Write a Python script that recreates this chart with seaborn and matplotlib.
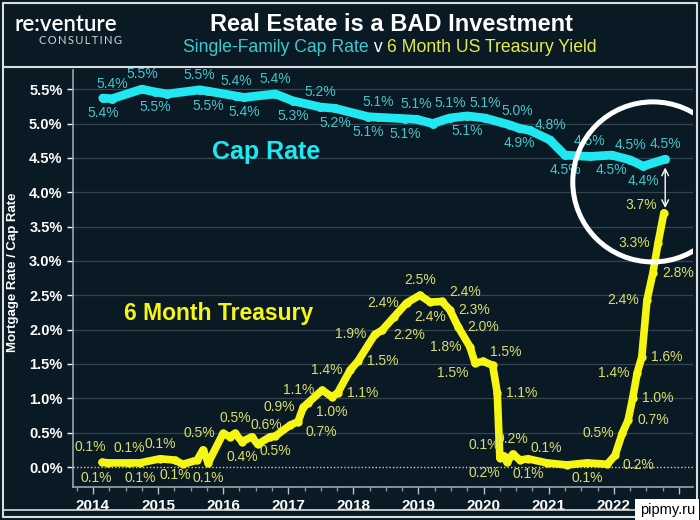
import numpy as np
import pandas as pd
import matplotlib
matplotlib.use("Agg")
import matplotlib.pyplot as plt
from matplotlib.patches import Ellipse, Rectangle
from matplotlib.lines import Line2D
import seaborn as sns

# Single-family cap rate (decimal year, %), label placement per point ('' = no label)
cap_year = [2014.15, 2014.29, 2014.75, 2014.95, 2015.14, 2015.64, 2015.77, 2016.20,
            2016.32, 2016.80, 2017.07, 2017.49, 2017.72, 2018.22, 2018.38, 2018.80,
            2018.97, 2019.22, 2019.48, 2019.75, 2020.02, 2020.40, 2020.55, 2020.71,
            2021.02, 2021.25, 2021.63, 2021.97, 2022.25, 2022.45, 2022.79]
cap_rate = [5.37, 5.36, 5.50, 5.46, 5.43, 5.49, 5.47, 5.40,
            5.38, 5.43, 5.33, 5.24, 5.22, 5.10, 5.09, 5.07,
            5.06, 5.00, 5.08, 5.11, 5.08, 4.98, 4.93, 4.90,
            4.76, 4.54, 4.52, 4.54, 4.47, 4.38, 4.48]
cap_pos = ['b', 'a', 'a', 'b', '', 'a', 'b', 'a',
           'b', 'a', 'b', 'a', 'b', 'b', 'a', 'b',
           'a', '', 'a', 'b', 'a', 'aR', 'b', '',
           'a', 'b', 'a', 'b', 'a', 'b', 'a']

# 6 month US treasury yield
tsy_year = [2014.14, 2014.23, 2014.55, 2014.72, 2015.03, 2015.26, 2015.38, 2015.60,
            2015.69, 2015.77, 2016.00, 2016.10, 2016.18, 2016.29, 2016.44, 2016.53,
            2016.72, 2016.80, 2017.03, 2017.15, 2017.23, 2017.30, 2017.52, 2017.67,
            2017.76, 2017.95, 2018.07, 2018.33, 2018.44, 2018.62, 2018.82, 2019.02,
            2019.18, 2019.36, 2019.48, 2019.61, 2019.79, 2019.87, 2019.99, 2020.14,
            2020.21, 2020.25, 2020.31, 2020.36, 2020.45, 2020.56, 2020.68, 2020.97,
            2021.28, 2021.59, 2021.90, 2022.02, 2022.13, 2022.22, 2022.29, 2022.36,
            2022.43, 2022.51, 2022.60, 2022.68, 2022.77]
tsy_rate = [0.07, 0.06, 0.06, 0.06, 0.12, 0.10, 0.04, 0.10,
            0.25, 0.06, 0.49, 0.44, 0.49, 0.37, 0.44, 0.33,
            0.44, 0.45, 0.61, 0.66, 0.87, 0.93, 1.12, 1.02,
            1.08, 1.41, 1.54, 1.93, 1.99, 2.18, 2.39, 2.50,
            2.40, 2.41, 2.29, 2.04, 1.75, 1.51, 1.54, 1.48,
            1.08, 0.13, 0.16, 0.07, 0.19, 0.10, 0.12, 0.06,
            0.03, 0.06, 0.04, 0.17, 0.49, 0.68, 1.00, 1.37,
            1.60, 2.43, 2.82, 3.26, 3.70]
tsy_pos = ['aL', 'bL', 'a', 'b', 'a', 'b', '', '',
           '', 'b', 'l', '', 'a', 'b', '', '',
           '', 'b', 'l', 'br', 'l', '', 'l', 'b',
           'r', 'l', 'r', 'l', '', 'bd', 'l', 'a',
           'b', 'ar', 'r', 'r', 'l', 'bl', 'ar', '',
           'r', 'ul', 'dl', '', 'a', '', 'b', 'a',
           '', 'b', '', 'br', 'l', 'r', 'r', 'l',
           'r', 'l', 'r', 'l', 'al']

years = list(range(2014, 2024))
y_ticks = [0.0, 0.5, 1.0, 1.5, 2.0, 2.5, 3.0, 3.5, 4.0, 4.5, 5.0, 5.5]

cap_df = pd.DataFrame({"year": cap_year, "rate": cap_rate})
tsy_df = pd.DataFrame({"year": tsy_year, "rate": tsy_rate})

BG = "#0a1a24"
CYAN = "#1fe8f0"
CYAN_TXT = "#47c4cc"
YELLOW = "#f6f614"
YELLOW_TXT = "#d9de6c"

sns.set_theme(style="dark", rc={"axes.facecolor": BG, "figure.facecolor": BG})
plt.rcParams["font.family"] = ["Liberation Sans", "DejaVu Sans"]

fig = plt.figure(figsize=(7, 5.2), dpi=100)
ax = fig.add_axes([73 / 700, 33 / 520, 620 / 700, 417 / 520])
ax.set_facecolor(BG)

sns.lineplot(data=cap_df, x="year", y="rate", ax=ax, color=CYAN, lw=6.3,
             marker="o", markersize=6.5, markeredgewidth=0, sort=False)
sns.lineplot(data=tsy_df, x="year", y="rate", ax=ax, color=YELLOW, lw=5.5,
             marker="o", markersize=6, markeredgewidth=0, sort=False)

# label offsets in pixels (dx, dy, horizontal alignment)
offs = {"a": (0, 15, "center"), "b": (0, -15, "center"),
        "aL": (-12, 15, "center"), "bL": (-12, -15, "center"),
        "aR": (8, 14, "center"),
        "l": (-8, 0, "right"), "r": (9, 0, "left"),
        "al": (-7, 8, "right"), "ar": (7, 9, "left"),
        "bl": (-7, -10, "right"), "br": (7, -10, "left"),
        "bd": (0, -18, "left"),
        "ul": (0, 13, "right"), "dl": (-4, -17, "right")}


def put_labels(xs, vs, pos, col):
    for x, v, p in zip(xs, vs, pos):
        if not p:
            continue
        dx, dy, ha = offs[p]
        ax.annotate(f"{v:.1f}%", (x, v), xytext=(dx * 0.72, dy * 0.72),
                    textcoords="offset points", ha=ha, va="center",
                    fontsize=10, color=col, clip_on=False)


put_labels(cap_year, cap_rate, cap_pos, CYAN_TXT)
put_labels(tsy_year, tsy_rate, tsy_pos, YELLOW_TXT)

ax.set_xlim(2013.693, 2023.217)
ax.set_ylim(-0.291, 5.779)
ax.set_xticks(years)
ax.set_xticks(np.arange(2013.75, 2023.2, 0.25), minor=True)
ax.set_yticks(y_ticks)
ax.set_yticklabels([f"{t:.1f}%" for t in y_ticks])
ax.tick_params(axis="y", colors="white", labelsize=10.5, length=4, width=1, left=True)
ax.tick_params(axis="x", which="major", colors="#b8c0c8", labelcolor="white",
               labelsize=11, length=5, width=1, bottom=True)
ax.tick_params(axis="x", which="minor", colors="#8a949c", length=3, width=1, bottom=True)
for lab in ax.get_xticklabels() + ax.get_yticklabels():
    lab.set_fontweight("bold")

ax.grid(False)
for t in y_ticks[1:]:
    ax.axhline(t, color="#34444f", lw=0.9, zorder=0)
ax.axhline(0, color="#c8c8c8", lw=1, ls=(0, (1, 1.5)), zorder=0)
for s in ["top", "right"]:
    ax.spines[s].set_visible(False)
for s in ["left", "bottom"]:
    ax.spines[s].set_color("#9aa4ac")
    ax.spines[s].set_linewidth(1.2)

ax.set_xlabel("")
ax.set_ylabel("Mortgage Rate / Cap Rate", color="white", fontsize=9.5, fontweight="bold")
ax.yaxis.set_label_coords(-0.087, 0.515)

ax.text(0.311, 0.803, "Cap Rate", transform=ax.transAxes, color=CYAN,
        fontsize=18, fontweight="bold", ha="center", va="center")
ax.text(0.235, 0.415, "6 Month Treasury", transform=ax.transAxes, color=YELLOW,
        fontsize=16.5, fontweight="bold", ha="center", va="center")

ax.add_patch(Ellipse((2022.60, 4.15), 2.46, 2.33, fill=False, ec="white", lw=3.6, zorder=5))
ax.annotate("", xy=(2022.79, 3.77), xytext=(2022.79, 4.36),
            arrowprops=dict(arrowstyle="<->", color="white", lw=1, shrinkA=0, shrinkB=0))

# header
fig.text(391 / 700, 1 - 24 / 520, "Real Estate is a BAD Investment", color="white",
         fontsize=17, fontweight="bold", ha="center", va="center")
parts = [("Single-Family Cap Rate", "#3fc9d2"), (" v ", "white"),
         ("6 Month US Treasury Yield", "#e4ea46")]
rend = fig.canvas.get_renderer()
texts = [fig.text(0, 1 - 48 / 520, s, color=c, fontsize=12.7, ha="left", va="center")
         for s, c in parts]
widths = [t.get_window_extent(rend).width for t in texts]
x0 = 390 - sum(widths) / 2
for t, w in zip(texts, widths):
    t.set_x(x0 / 700)
    x0 += w

fig.text(15 / 700, 1 - 24 / 520, "re:venture", color="white", fontsize=16,
         fontweight="semibold", family=["Lato", "DejaVu Sans"], ha="left", va="center")
fig.text(122 / 700, 1 - 41 / 520, "\u2009".join("CONSULTING"), color="#d0d4d8",
         fontsize=8, family=["Lato", "DejaVu Sans"], ha="right", va="center")

# frame lines
fig.add_artist(Rectangle((3 / 700, 3 / 520), 694 / 700, 514 / 520, transform=fig.transFigure,
                         fill=False, ec="#d8dde0", lw=1.5))
fig.add_artist(Line2D([3 / 700, 697 / 700], [1 - 67 / 520] * 2, transform=fig.transFigure,
                      color="#d8dde0", lw=1.5))
fig.add_artist(Line2D([3 / 700, 697 / 700], [1 - 510 / 520] * 2, transform=fig.transFigure,
                      color="#d8dde0", lw=1.2))

fig.text(0.993, 0.006, "pipmy.ru", color="black", fontsize=10.5, ha="right", va="bottom",
         bbox=dict(boxstyle="square,pad=0.3", fc="white", ec="none"))

fig.savefig("out.png", dpi=100, facecolor=BG)
